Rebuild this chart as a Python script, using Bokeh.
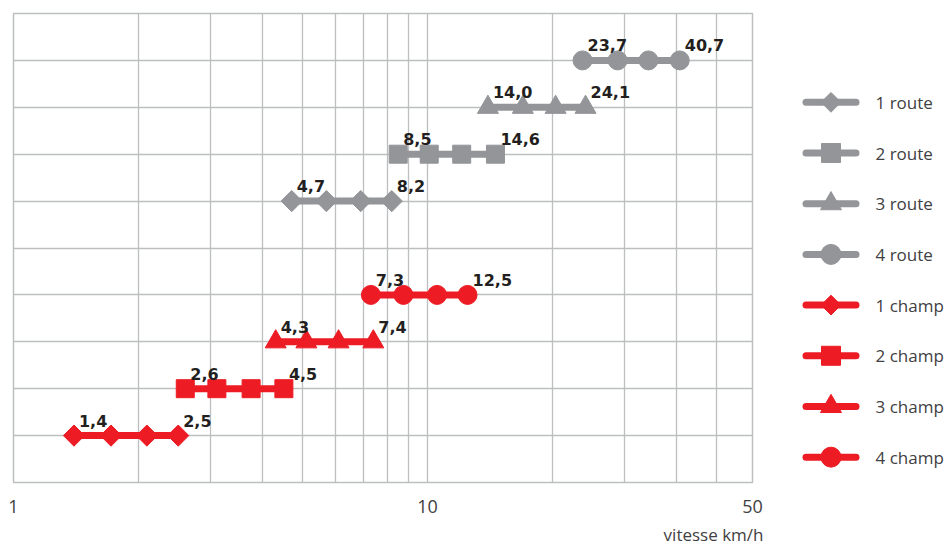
import math
from bokeh.plotting import figure
from bokeh.layouts import row
from bokeh.models import Range1d, FixedTicker, Title
from bokeh.core.properties import value
from bokeh.embed import file_html
from bokeh.resources import INLINE

# ---- data -------------------------------------------------------------
series_names = ["1 route", "2 route", "3 route", "4 route",
                "1 champ", "2 champ", "3 champ", "4 champ"]
series_rows = [6, 7, 8, 9, 1, 2, 3, 4]

route_1 = [4.7, 5.7, 6.9, 8.2]
route_2 = [8.5, 10.1, 12.1, 14.6]
route_3 = [14.0, 17.0, 20.4, 24.1]
route_4 = [23.7, 28.8, 34.2, 40.7]
champ_1 = [1.4, 1.72, 2.1, 2.5]
champ_2 = [2.6, 3.1, 3.75, 4.5]
champ_3 = [4.3, 5.1, 6.1, 7.4]
champ_4 = [7.3, 8.75, 10.55, 12.5]
series_values = [route_1, route_2, route_3, route_4,
                 champ_1, champ_2, champ_3, champ_4]

x_major_ticks = [1, 10, 61]
x_tick_labels = {1: "1", 10: "10", 61: "50"}
x_minor_ticks = [2, 3, 4, 5, 6, 7, 8, 9, 20, 30, 40, 50]
y_grid_ticks = list(range(0, 11))
x_title = "vitesse km/h"

# ---- styles -----------------------------------------------------------
GRAY = "#939598"
RED = "#ED1C24"
GRID = "#bcbec0"
TXT = "#231F20"
TICK_TXT = "#414042"
FONT = "Open Sans"
LBL_FONT = "DejaVu Sans"

marker_kind = ["square", "square", "triangle", "circle"]
marker_angle = [math.pi / 4, 0, 0, 0]
marker_size = [15, 18, 21, 19]
legend_marker_size = [14, 19, 21, 20]

FRAME_H = 470
p = figure(width=770, height=550, x_axis_type="log",
           x_range=Range1d(1, 61), y_range=Range1d(0, 10),
           y_axis_location=None, output_backend="svg",
           toolbar_location=None,
           min_border_left=13, min_border_right=18,
           min_border_top=13, min_border_bottom=67)
p.background_fill_color = "white"
p.border_fill_color = "white"
p.outline_line_color = GRID
p.outline_line_width = 1.5

ticker = FixedTicker(ticks=x_major_ticks, minor_ticks=x_minor_ticks)
p.xaxis.ticker = ticker
p.xaxis.major_label_overrides = x_tick_labels
p.xaxis.axis_line_color = None
p.xaxis.major_tick_line_color = None
p.xaxis.minor_tick_line_color = None
p.xaxis.major_tick_out = 0
p.xaxis.minor_tick_out = 0
p.xaxis.major_label_standoff = 17
p.xaxis.major_label_text_font = FONT
p.xaxis.major_label_text_font_size = "18px"
p.xaxis.major_label_text_color = TICK_TXT

p.xgrid.ticker = ticker
p.xgrid.grid_line_color = GRID
p.xgrid.grid_line_width = 1.3
p.xgrid.minor_grid_line_color = GRID
p.xgrid.minor_grid_line_width = 1.3
p.ygrid.ticker = FixedTicker(ticks=y_grid_ticks)
p.ygrid.grid_line_color = GRID
p.ygrid.grid_line_width = 1.3


def fmt(v):
    return f"{v:.1f}".replace(".", ",")


for i, (row_y, vals) in enumerate(zip(series_rows, series_values)):
    color = GRAY if i < 4 else RED
    k = i % 4
    ys = [row_y] * len(vals)
    p.line(x=vals, y=ys, line_width=7, line_color=color, line_cap="round")
    p.scatter(x=vals, y=ys, marker=marker_kind[k], size=marker_size[k],
              angle=marker_angle[k], fill_color=color, line_color=color)
    p.text(x=[vals[0], vals[-1]], y=[row_y, row_y], text=[fmt(vals[0]), fmt(vals[-1])],
           text_font=value(LBL_FONT), text_font_style="bold", text_font_size="16px",
           text_color=TXT, text_align="left", text_baseline="alphabetic",
           x_offset=5, y_offset=-15)

p.add_layout(Title(text=x_title, align="right", offset=-11, standoff=10,
                   text_font=FONT, text_font_size="17px", text_font_style="normal",
                   text_color=TICK_TXT), "below")

# ---- legend panel (separate figure; its frame aligns with the chart frame) --
LW = 182
lg = figure(width=LW, height=550, x_range=Range1d(0, LW), y_range=Range1d(FRAME_H, 0),
            x_axis_location=None, y_axis_location=None, output_backend="svg",
            toolbar_location=None, min_border=0,
            min_border_top=13, min_border_bottom=67)
lg.outline_line_color = None
lg.grid.visible = False
lg.background_fill_color = "white"
lg.border_fill_color = "white"

item_top, item_step = 89, 50.8
glyph_x0, glyph_x1, text_x = 35.5, 85.5, 105
for i, name in enumerate(series_names):
    color = GRAY if i < 4 else RED
    k = i % 4
    yy = item_top + item_step * i
    lg.segment(x0=[glyph_x0], y0=[yy], x1=[glyph_x1], y1=[yy], line_width=7,
               line_color=color, line_cap="round")
    lg.scatter(x=[(glyph_x0 + glyph_x1) / 2], y=[yy], marker=marker_kind[k],
               size=legend_marker_size[k], angle=marker_angle[k],
               fill_color=color, line_color=color)
    lg.text(x=[text_x], y=[yy], text=[name], text_font=value(FONT),
            text_font_size="17px", text_color=TICK_TXT,
            text_align="left", text_baseline="middle")

layout = row(p, lg, spacing=0)
open("out.html", "w").write(file_html(layout, INLINE))
